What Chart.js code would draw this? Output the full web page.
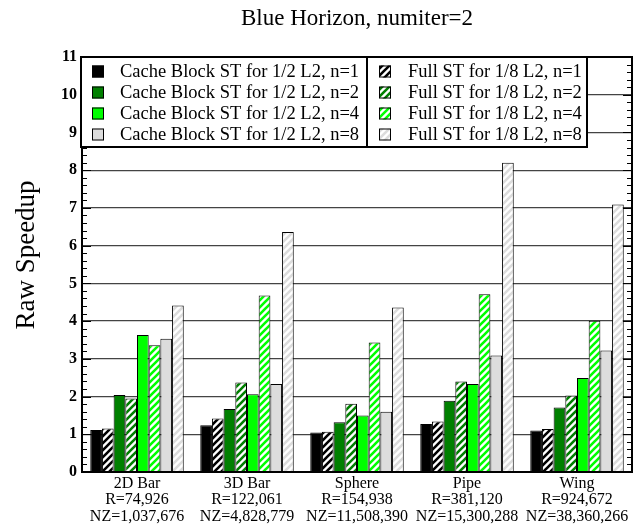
<!DOCTYPE html>
<html>
<head>
<meta charset="utf-8">
<script src="https://cdn.jsdelivr.net/npm/chart.js@4/dist/chart.umd.min.js"></script>
<style>
  html, body { margin: 0; padding: 0; background: #fff; }
  #c { display: block; }
</style>
</head>
<body>
<canvas id="c" width="640" height="525"></canvas>
<script>
// Matrix categories (name, rows, non-zeros)
const categories = [
  ['2D Bar', 'R=74,926', 'NZ=1,037,676'],
  ['3D Bar', 'R=122,061', 'NZ=4,828,779'],
  ['Sphere', 'R=154,938', 'NZ=11,508,390'],
  ['Pipe', 'R=381,120', 'NZ=15,300,288'],
  ['Wing', 'R=924,672', 'NZ=38,360,266']
];

// Raw speedup per matrix
const cacheBlockN1 = [1.11, 1.24, 1.05, 1.27, 1.10];
const fullN1       = [1.15, 1.42, 1.07, 1.34, 1.14];
const cacheBlockN2 = [2.04, 1.67, 1.32, 1.89, 1.71];
const fullN2       = [1.95, 2.37, 1.81, 2.40, 2.03];
const cacheBlockN4 = [3.63, 2.06, 1.50, 2.33, 2.49];
const fullN4       = [3.36, 4.68, 3.43, 4.71, 4.01];
const cacheBlockN8 = [3.53, 2.33, 1.60, 3.09, 3.22];
const fullN8       = [4.41, 6.36, 4.36, 8.20, 7.09];

const yTickValues = [0, 1, 2, 3, 4, 5, 6, 7, 8, 9, 10, 11];

const SERIF = "'Liberation Serif', 'Times New Roman', serif";
const canvas = document.getElementById('c');
const ctx = canvas.getContext('2d');

// Diagonal hatch fill: coloured stripes on white
function stripes(color) {
  const s = 7;
  const t = document.createElement('canvas');
  t.width = s; t.height = s;
  const g = t.getContext('2d');
  g.fillStyle = '#ffffff';
  g.fillRect(0, 0, s, s);
  g.strokeStyle = color;
  g.lineWidth = 2.6;
  g.beginPath();
  for (let k = -1; k <= 1; k++) {
    g.moveTo(k * s - 1, s + 1);
    g.lineTo(k * s + s + 1, -1);
  }
  g.stroke();
  return ctx.createPattern(t, 'repeat');
}

const BLACK = '#000000', DKGREEN = '#008000', GREEN = '#00ff00', GREY = '#dcdcdc';

const series = [
  { label: 'Cache Block ST for 1/2 L2, n=1', data: cacheBlockN1, fill: BLACK, hatch: false, col: 0, row: 0 },
  { label: 'Full ST for 1/8 L2, n=1',        data: fullN1,       fill: BLACK, hatch: true,  col: 1, row: 0 },
  { label: 'Cache Block ST for 1/2 L2, n=2', data: cacheBlockN2, fill: DKGREEN, hatch: false, col: 0, row: 1 },
  { label: 'Full ST for 1/8 L2, n=2',        data: fullN2,       fill: DKGREEN, hatch: true,  col: 1, row: 1 },
  { label: 'Cache Block ST for 1/2 L2, n=4', data: cacheBlockN4, fill: GREEN, hatch: false, col: 0, row: 2 },
  { label: 'Full ST for 1/8 L2, n=4',        data: fullN4,       fill: GREEN, hatch: true,  col: 1, row: 2 },
  { label: 'Cache Block ST for 1/2 L2, n=8', data: cacheBlockN8, fill: GREY, hatch: false, col: 0, row: 3 },
  { label: 'Full ST for 1/8 L2, n=8',        data: fullN8,       fill: GREY, hatch: true,  col: 1, row: 3 }
];

const datasets = series.map(s => ({
  label: s.label,
  data: s.data,
  backgroundColor: s.hatch ? stripes(s.fill) : s.fill,
  borderColor: '#000000',
  borderWidth: 1,
  barPercentage: 1.0,
  categoryPercentage: 0.85
}));

// Frame, inward ticks, boxed two-column legend and titles
const decorations = {
  id: 'decorations',
  afterDatasetsDraw(chart) {
    const c = chart.ctx;
    const a = chart.chartArea;
    const y = chart.scales.y;
    c.save();
    // plot frame
    c.strokeStyle = '#000';
    c.lineWidth = 2;
    c.strokeRect(a.left, a.top, a.right - a.left, a.bottom - a.top);
    // inward ticks on left and right axes
    c.lineWidth = 1.2;
    c.beginPath();
    for (let i = 0; i <= 55; i++) {
      const v = i / 5;
      const py = Math.round(y.getPixelForValue(v)) + 0.5;
      const len = (i % 5 === 0) ? 9 : 5;
      c.moveTo(a.left, py); c.lineTo(a.left + len, py);
      c.moveTo(a.right, py); c.lineTo(a.right - len, py);
    }
    c.stroke();

    // legend boxes
    const boxes = [
      { x: 81, w: 286, sx: 92, tx: 120 },
      { x: 367, w: 220, sx: 379, tx: 408 }
    ];
    const top = 57, h = 90;
    const rows = [71.5, 92.5, 113.5, 134.5];
    boxes.forEach(b => {
      c.fillStyle = '#fff';
      c.fillRect(b.x, top, b.w, h);
      c.lineWidth = 2;
      c.strokeStyle = '#000';
      c.strokeRect(b.x, top, b.w, h);
    });
    c.font = '18.5px ' + SERIF;
    c.textBaseline = 'middle';
    c.textAlign = 'left';
    chart.data.datasets.forEach((ds, i) => {
      const s = series[i];
      const b = boxes[s.col];
      const ry = rows[s.row];
      c.fillStyle = ds.backgroundColor;
      c.fillRect(b.sx, ry - 6, 12, 12);
      c.lineWidth = 1;
      c.strokeStyle = '#000';
      c.strokeRect(b.sx + 0.5, ry - 6 + 0.5, 11, 11);
      c.fillStyle = '#000';
      c.fillText(ds.label, b.tx, ry + 1);
    });

    // chart title
    c.font = '23px ' + SERIF;
    c.textAlign = 'center';
    c.textBaseline = 'middle';
    c.fillText('Blue Horizon, numiter=2', (a.left + a.right) / 2, 19);

    // y-axis title
    c.translate(27, 255);
    c.rotate(-Math.PI / 2);
    c.font = '27px ' + SERIF;
    c.fillText('Raw Speedup', 0, 0);
    c.restore();
  }
};

new Chart(canvas, {
  type: 'bar',
  data: { labels: categories, datasets },
  options: {
    responsive: false,
    animation: false,
    devicePixelRatio: 1,
    layout: { padding: { top: 57, right: 8, left: 0, bottom: 0 } },
    plugins: { legend: { display: false }, title: { display: false }, tooltip: { enabled: false } },
    scales: {
      x: {
        grid: { display: false, drawTicks: false },
        border: { display: true, color: '#000', width: 2 },
        ticks: {
          color: '#000',
          padding: 3,
          maxRotation: 0,
          autoSkip: false,
          font: { family: SERIF, size: 16, lineHeight: 1.05 }
        },
        afterFit(scale) { scale.height = 53; }
      },
      y: {
        min: 0,
        max: 11,
        afterBuildTicks(scale) { scale.ticks = yTickValues.map(v => ({ value: v })); },
        grid: { color: '#444', lineWidth: 1.2, drawTicks: false },
        border: { display: true, color: '#000', width: 2 },
        ticks: {
          color: '#000',
          padding: 5,
          font: { family: SERIF, size: 16, weight: 'bold' }
        },
        afterFit(scale) { scale.width = 82; }
      }
    }
  },
  plugins: [decorations]
});
</script>
</body>
</html>
